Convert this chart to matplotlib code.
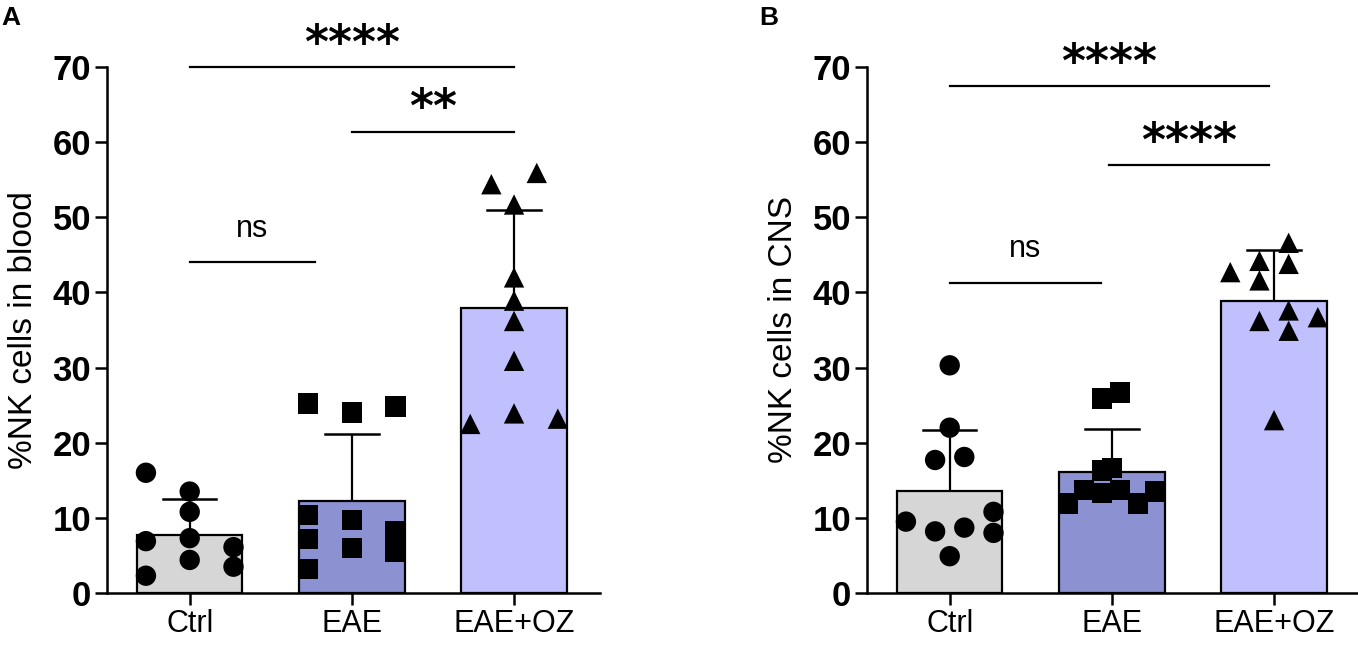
import matplotlib
matplotlib.use("Agg")
import matplotlib.pyplot as plt

plt.rcParams['font.family'] = ['Liberation Sans', 'DejaVu Sans']

# groups and colours
groups = ["Ctrl", "EAE", "EAE+OZ"]
bar_colors = ["#d6d6d6", "#8c92d1", "#c0c0ff"]
markers = ["o", "s", "^"]

# panel A - blood
blood_means = [7.7, 12.3, 37.9]
blood_sd = [4.8, 8.8, 13.1]
blood_ctrl = [16.0, 6.9, 2.3, 13.5, 10.8, 7.3, 4.4, 6.1, 3.5]
blood_eae = [25.2, 10.4, 7.2, 3.2, 24.0, 9.7, 6.0, 24.8, 8.2, 5.5]
blood_oz = [22.5, 54.4, 55.9, 51.7, 42.0, 38.9, 36.2, 30.9, 23.9, 23.2]

# panel B - CNS
cns_means = [13.6, 16.1, 38.8]
cns_sd = [8.1, 5.7, 6.9]
cns_ctrl = [9.5, 17.7, 8.2, 30.3, 22.0, 4.9, 18.1, 8.7, 10.8, 8.0]
cns_eae = [11.9, 13.7, 25.9, 13.3, 16.3, 16.6, 26.7, 13.7, 11.9, 13.5]
cns_oz = [42.7, 44.2, 41.6, 36.2, 23.0, 46.6, 43.8, 37.6, 34.9, 36.7]

# horizontal scatter offsets (column layout like prism)
blood_offsets = [
    [-0.27, -0.27, -0.27, 0, 0, 0, 0, 0.27, 0.27],
    [-0.27, -0.27, -0.27, -0.27, 0, 0, 0, 0.27, 0.27, 0.27],
    [-0.27, -0.14, 0.14, 0, 0, 0, 0, 0, 0, 0.27],
]
cns_offsets = [
    [-0.27, -0.09, -0.09, 0, 0, 0, 0.09, 0.09, 0.27, 0.27],
    [-0.27, -0.17, -0.06, -0.06, -0.06, 0, 0.05, 0.05, 0.16, 0.27],
    [-0.27, -0.09, -0.09, -0.09, 0, 0.09, 0.09, 0.09, 0.09, 0.27],
]

W, H = 1358, 645


def draw_panel(ax, means, sds, points, offsets, ylabel):
    x = list(range(len(groups)))
    ax.bar(x, means, width=0.65, color=bar_colors, edgecolor="black",
           linewidth=1.6, zorder=1)
    for i in x:
        ax.plot([i, i], [means[i], means[i] + sds[i]], color="black",
                lw=1.6, zorder=2, solid_capstyle="butt")
        ax.plot([i - 0.165, i + 0.165], [means[i] + sds[i]] * 2,
                color="black", lw=1.8, zorder=2)
        xs = [i + o for o in offsets[i]]
        ax.scatter(xs, points[i], marker=markers[i], s=215, color="black",
                   edgecolors="none", zorder=3, clip_on=False)
    ax.set_xlim(-0.51, 2.53)
    ax.set_ylim(0, 70)
    ax.set_yticks(range(0, 71, 10))
    ax.set_xticks(x)
    ax.set_xticklabels(groups, fontsize=22)
    for lab in ax.get_yticklabels():
        lab.set_fontweight("bold")
        lab.set_fontsize(25)
    ax.spines["top"].set_visible(False)
    ax.spines["right"].set_visible(False)
    ax.spines["left"].set_linewidth(1.8)
    ax.spines["bottom"].set_linewidth(1.8)
    ax.tick_params(axis="both", length=8.5, width=1.8, pad=3)
    ax.set_ylabel(ylabel, fontsize=24, labelpad=10)


def sig_bar(ax, x0, x1, y, text, ty, bold):
    ax.plot([x0, x1], [y, y], color="black", lw=1.6, clip_on=False)
    if bold:
        ax.text((x0 + x1) / 2, ty, text, ha="center", va="center",
                fontsize=33, fontweight="bold", family="DejaVu Sans",
                clip_on=False)
    else:
        ax.text((x0 + x1) / 2, ty, text, ha="center", va="center",
                fontsize=22, clip_on=False)


fig = plt.figure(figsize=(W / 100, H / 100), dpi=100)
ax_a = fig.add_axes([107 / W, 1 - 593 / H, 493 / W, 526 / H])
ax_b = fig.add_axes([867 / W, 1 - 593 / H, 493 / W, 526 / H])

draw_panel(ax_a, blood_means, blood_sd, [blood_ctrl, blood_eae, blood_oz],
           blood_offsets, "%NK cells in blood")
draw_panel(ax_b, cns_means, cns_sd, [cns_ctrl, cns_eae, cns_oz],
           cns_offsets, "%NK cells in CNS")

sig_bar(ax_a, 0, 2, 70, "****", 72.8, True)
sig_bar(ax_a, 1, 2, 61.4, "**", 64.3, True)
sig_bar(ax_a, 0, 0.77, 44.0, "ns", 48.5, False)

sig_bar(ax_b, 0, 1.97, 67.5, "****", 70.3, True)
sig_bar(ax_b, 0.98, 1.97, 57.0, "****", 59.8, True)
sig_bar(ax_b, 0, 0.93, 41.3, "ns", 45.8, False)

fig.text(1 / W, 1 - 18 / H, "A", fontsize=19, fontweight="bold", va="center")
fig.text(759 / W, 1 - 18 / H, "B", fontsize=19, fontweight="bold", va="center")

fig.savefig("out.png", dpi=100)
